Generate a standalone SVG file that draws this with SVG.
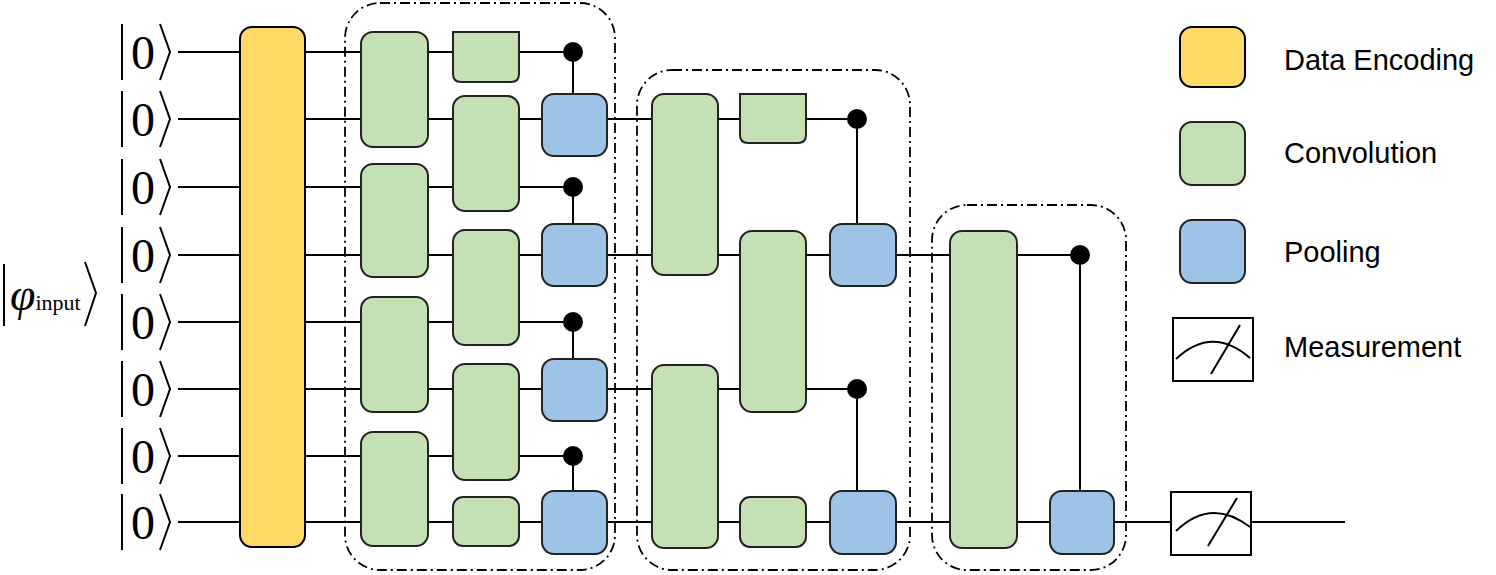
<svg xmlns="http://www.w3.org/2000/svg" width="1496" height="575" viewBox="0 0 1496 575">
<style>
.w{stroke:#000;stroke-width:2;fill:none}
.enc{fill:#FFD966;stroke:#000;stroke-width:2}
.cv{fill:#C5E0B4;stroke:#222;stroke-width:2}
.pl{fill:#9DC3E6;stroke:#222;stroke-width:2}
.grp{fill:none;stroke:#000;stroke-width:1.8;stroke-dasharray:10 4 2 4}
.dot{fill:#000}
.lg{font-family:"Liberation Sans",Arial,sans-serif;font-size:29px;fill:#000}
.m{fill:#fff;stroke:#000;stroke-width:2}
</style>
<g id="wires">
<line class="w" x1="178" y1="52" x2="573" y2="52"/>
<line class="w" x1="178" y1="119" x2="857" y2="119"/>
<line class="w" x1="178" y1="187" x2="573" y2="187"/>
<line class="w" x1="178" y1="255" x2="1080" y2="255"/>
<line class="w" x1="178" y1="322" x2="573" y2="322"/>
<line class="w" x1="178" y1="389" x2="857" y2="389"/>
<line class="w" x1="178" y1="456" x2="573" y2="456"/>
<line class="w" x1="178" y1="522" x2="1345" y2="522"/>
<line class="w" x1="573" y1="52" x2="573" y2="94"/>
<line class="w" x1="573" y1="187" x2="573" y2="224"/>
<line class="w" x1="573" y1="322" x2="573" y2="359"/>
<line class="w" x1="573" y1="456" x2="573" y2="491"/>
<line class="w" x1="857" y1="119" x2="857" y2="224"/>
<line class="w" x1="857" y1="389" x2="857" y2="491"/>
<line class="w" x1="1080" y1="255" x2="1080" y2="491"/>
</g>
<g id="kets">
<g font-family="Liberation Serif,serif" font-size="48">
<text x="131" y="69">0</text><text x="131" y="136">0</text><text x="131" y="204">0</text><text x="131" y="272">0</text>
<text x="131" y="339">0</text><text x="131" y="406">0</text><text x="131" y="473">0</text><text x="131" y="539">0</text>
</g>
<g class="w" stroke-width="2">
<path d="M122 24V80M160 24L170 52L160 80"/>
<path d="M122 91V147M160 91L170 119L160 147"/>
<path d="M122 159V215M160 159L170 187L160 215"/>
<path d="M122 227V283M160 227L170 255L160 283"/>
<path d="M122 294V350M160 294L170 322L160 350"/>
<path d="M122 361V417M160 361L170 389L160 417"/>
<path d="M122 428V484M160 428L170 456L160 484"/>
<path d="M122 494V550M160 494L170 522L160 550"/>
</g>
</g>
<g id="input">
<path class="w" d="M4 264V326M85 262L96 293L85 326"/>
<text x="10" y="310" font-family="Liberation Serif,serif" font-size="46" font-style="italic">φ<tspan font-size="22" font-style="normal">input</tspan></text>
</g>
<g id="groups">
<rect class="grp" x="345" y="3" width="270" height="567" rx="35"/>
<rect class="grp" x="637" y="70" width="273" height="500" rx="35"/>
<rect class="grp" x="932" y="205" width="194" height="365" rx="35"/>
</g>
<g id="encoding"><rect class="enc" x="240" y="27" width="65" height="520" rx="12"/></g>
<g id="conv">
<rect class="cv" x="361" y="32" width="67" height="115" rx="12"/>
<rect class="cv" x="361" y="164" width="67" height="113" rx="12"/>
<rect class="cv" x="361" y="297" width="67" height="115" rx="12"/>
<rect class="cv" x="361" y="432" width="67" height="114" rx="12"/>
<path class="cv" d="M453 32H519V74Q519 82 511 82H461Q453 82 453 74Z"/>
<rect class="cv" x="453" y="96" width="66" height="115" rx="12"/>
<rect class="cv" x="453" y="230" width="66" height="115" rx="12"/>
<rect class="cv" x="453" y="364" width="66" height="116" rx="12"/>
<rect class="cv" x="453" y="497" width="66" height="49" rx="10"/>
<rect class="cv" x="652" y="94" width="66" height="181" rx="12"/>
<rect class="cv" x="652" y="365" width="66" height="183" rx="12"/>
<path class="cv" d="M740 94H806V135Q806 143 798 143H748Q740 143 740 135Z"/>
<rect class="cv" x="740" y="231" width="66" height="181" rx="12"/>
<rect class="cv" x="740" y="497" width="66" height="50" rx="10"/>
<rect class="cv" x="950" y="231" width="67" height="317" rx="12"/>
</g>
<g id="pool">
<rect class="pl" x="542" y="94" width="65" height="62" rx="12"/>
<rect class="pl" x="542" y="224" width="65" height="62" rx="12"/>
<rect class="pl" x="542" y="359" width="65" height="62" rx="12"/>
<rect class="pl" x="542" y="491" width="65" height="63" rx="12"/>
<rect class="pl" x="830" y="224" width="66" height="62" rx="12"/>
<rect class="pl" x="830" y="491" width="66" height="63" rx="12"/>
<rect class="pl" x="1050" y="491" width="64" height="63" rx="12"/>
</g>
<g id="controls">
<circle class="dot" cx="573" cy="52" r="10"/><circle class="dot" cx="573" cy="187" r="10"/>
<circle class="dot" cx="573" cy="322" r="10"/><circle class="dot" cx="573" cy="456" r="10"/>
<circle class="dot" cx="857" cy="119" r="10"/><circle class="dot" cx="857" cy="389" r="10"/>
<circle class="dot" cx="1080" cy="255" r="10"/>
</g>
<g id="measure">
<rect class="m" x="1171" y="492" width="80" height="63"/>
<path class="w" d="M1176 531Q1211 497 1250 527M1208 546L1237 498"/>
</g>
<g id="legend">
<rect class="enc" x="1180" y="27" width="65" height="60" rx="12"/>
<rect class="cv" x="1180" y="122" width="65" height="63" rx="12"/>
<rect class="pl" x="1180" y="220" width="65" height="63" rx="12"/>
<rect class="m" x="1173" y="318" width="80" height="63"/>
<path class="w" d="M1176 359Q1212 325 1250 358M1211 374L1240 325"/>
<text class="lg" x="1284" y="70">Data Encoding</text>
<text class="lg" x="1284" y="163">Convolution</text>
<text class="lg" x="1284" y="262">Pooling</text>
<text class="lg" x="1284" y="357">Measurement</text>
</g>
</svg>
